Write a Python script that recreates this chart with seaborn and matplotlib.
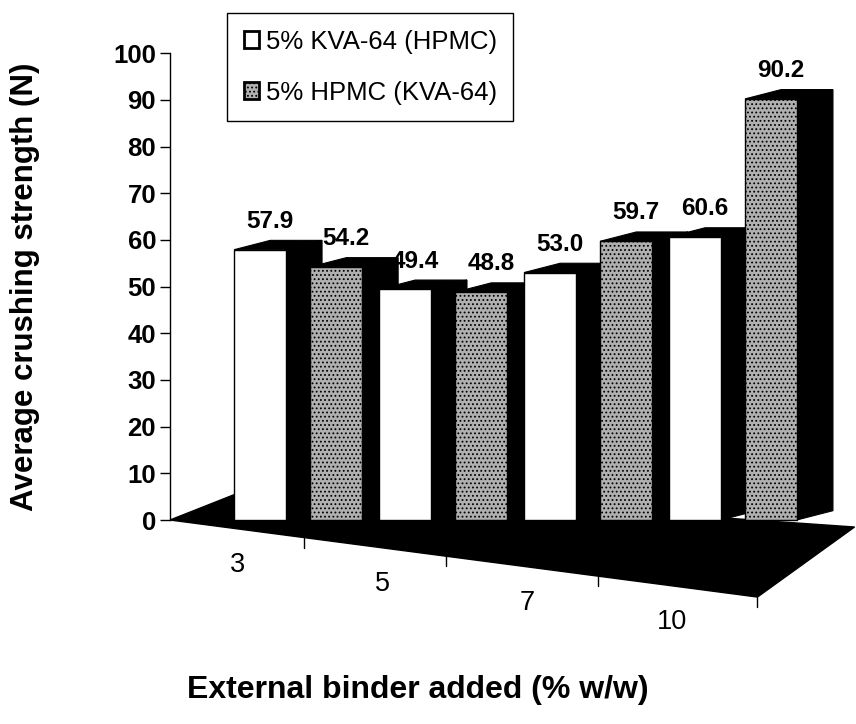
import numpy as np
import pandas as pd
import matplotlib
matplotlib.use("Agg")
import matplotlib.pyplot as plt
import seaborn as sns
from matplotlib.patches import Polygon

# ---- data ----
binder_levels = ["3", "5", "7", "10"]
series_names = ["5% KVA-64 (HPMC)", "5% HPMC (KVA-64)"]
kva_hpmc = [57.9, 49.4, 53.0, 60.6]
hpmc_kva = [54.2, 48.8, 59.7, 90.2]
y_ticks = [0, 10, 20, 30, 40, 50, 60, 70, 80, 90, 100]

df = pd.DataFrame({
    "binder": binder_levels * 2,
    "series": [series_names[0]] * 4 + [series_names[1]] * 4,
    "strength": kva_hpmc + hpmc_kva,
})

sns.set_theme(style="white")
plt.rcParams["font.family"] = ["Liberation Sans", "DejaVu Sans"]
plt.rcParams["hatch.linewidth"] = 0.8
plt.rcParams["text.color"] = "black"

W, H = 856, 724
fig = plt.figure(figsize=(W / 100, H / 100), dpi=100)
ax = fig.add_axes([170 / W, 84 / H, 686 / W, 620 / H])

sns.barplot(data=df, x="binder", y="strength", hue="series",
            order=binder_levels, hue_order=series_names,
            palette=["white", "#b0b0b0"], saturation=1,
            width=1.05, gap=0.32, edgecolor="black", linewidth=1.0,
            legend=False, ax=ax, zorder=3)

x_left, x_right = -0.883, 3.85
ax.set_xlim(x_left, x_right)
ax.set_ylim(-25.7, 107.1)

# grey series texture
for p in ax.containers[1]:
    p.set_hatch("....")

# pseudo-3D depth for bars
dx, dy = 0.25, 2.0
for cont in ax.containers:
    for p in cont:
        x0, w, h = p.get_x(), p.get_width(), p.get_height()
        side = Polygon([(x0 + w, 0), (x0 + w, h), (x0 + w + dx, h + dy), (x0 + w + dx, dy)],
                       closed=True, facecolor="black", edgecolor="black", lw=0.8, zorder=2.5)
        top = Polygon([(x0, h), (x0 + w, h), (x0 + w + dx, h + dy), (x0 + dx, h + dy)],
                      closed=True, facecolor="black", edgecolor="black", lw=0.8, zorder=2.5)
        ax.add_patch(side)
        ax.add_patch(top)
        ax.text(x0 + w / 2 + 0.07, h + dy + 1.6, f"{h:.1f}", ha="center", va="bottom",
                fontsize=17.5, fontweight="bold", color="black", zorder=5, clip_on=False)

# floor
fr_x, fr_y = 3.17, -16.5
floor = Polygon([(x_left, 0), (fr_x, fr_y), (3.84, -1.5), (-0.28, 7.4)], closed=True,
                facecolor="black", edgecolor="black", zorder=1)
ax.add_patch(floor)
slope = fr_y / (fr_x - x_left)

def front_y(x):
    return slope * (x - x_left)

# category separator ticks on floor front edge
for xb in [0.04, 1.02, 2.07, fr_x]:
    yb = front_y(xb)
    ax.plot([xb, xb], [yb, yb - 2.2], color="black", lw=1.0, zorder=2, clip_on=False)

# category labels along the floor
ax.set_xticks([])
ax.set_xlabel("")
for i, lab in enumerate(binder_levels):
    xl = i - 0.42
    ax.text(xl, front_y(xl) - 5.0, lab, ha="center", va="top", fontsize=19.5, color="black")

# y axis
for s in ["top", "right", "bottom"]:
    ax.spines[s].set_visible(False)
ax.spines["left"].set_bounds(0, 100)
ax.spines["left"].set_color("black")
ax.spines["left"].set_linewidth(1.0)
ax.set_yticks(y_ticks)
ax.set_yticklabels([str(t) for t in y_ticks], fontweight="bold")
ax.tick_params(axis="y", direction="out", length=7, width=1, color="black",
               labelsize=18.5, labelcolor="black", left=True, pad=3)
ax.set_ylabel("Average crushing strength (N)", fontsize=22.5, fontweight="bold", color="black")
ax.yaxis.set_label_coords(-0.19, 0.569)

fig.text(418 / W, 1 - 690 / H, "External binder added (% w/w)", ha="center", va="center",
         fontsize=23, fontweight="bold", color="black")

# legend
handles = [ax.containers[0][0], ax.containers[1][0]]
leg = ax.legend(handles, series_names, loc="upper left",
                bbox_to_anchor=(227 / W, 1 - 13 / H), bbox_transform=fig.transFigure,
                borderaxespad=0, frameon=True, fancybox=False, edgecolor="black",
                fontsize=18.5, labelcolor="black",
                handlelength=0.6, handleheight=0.6, handletextpad=0.25,
                labelspacing=1.05, borderpad=0.65, framealpha=1)
leg.get_frame().set_linewidth(1.0)
leg.set_zorder(10)
for hdl in leg.legend_handles:
    hdl.set_linewidth(2.0)

fig.savefig("out.png", dpi=100, facecolor="white")
